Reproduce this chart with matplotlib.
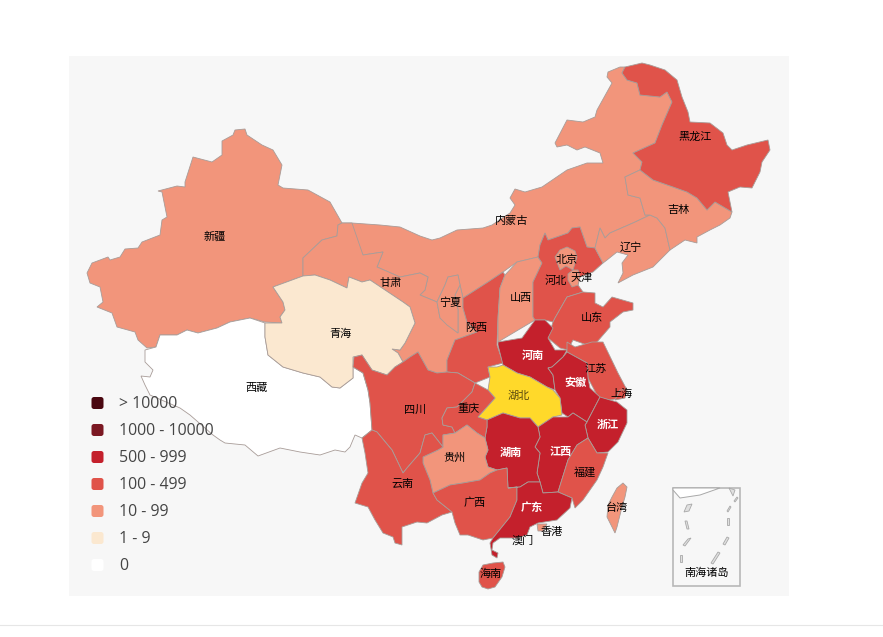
import matplotlib.pyplot as plt
from matplotlib.patches import Polygon, FancyBboxPatch, Rectangle

plt.rcParams["font.family"] = ["Noto Sans CJK SC", "DejaVu Sans"]

# outlines, in picture pixels
neimenggu = [(342,223),(352,223),(380,225),(400,227),(420,236),(432,240),(440,238),(457,230),(483,228),(492,225),(510,213),(515,205),(510,198),(515,189),(525,192),(542,187),(567,170),(587,163),(603,163),(600,153),(585,147),(577,150),(567,145),(557,147),(555,143),(567,120),(583,122),(595,117),(597,110),(612,83),(607,77),(608,72),(620,67),(625,67),(622,73),(627,80),(637,83),(640,95),(660,97),(667,92),(672,102),(662,125),(655,143),(633,153),(642,162),(640,170),(625,177),(628,195),(640,198),(645,215),(650,215),(633,223),(610,233),(605,238),(600,228),(597,240),(595,248),(587,247),(580,227),(572,228),(568,233),(548,240),(545,233),(540,245),(538,257),(517,262),(503,272),(488,282),(463,298),(460,285),(458,275),(448,277),(445,285),(437,302),(420,295),(425,290),(428,277),(420,273),(400,277),(377,267),(383,252),(363,255)]
xinjiang = [(235,130),(245,129),(247,135),(262,145),(273,150),(282,165),(278,185),(283,188),(308,190),(330,202),(342,223),(338,225),(337,236),(322,240),(303,258),(303,276),(273,287),(283,302),(285,310),(280,317),(282,323),(265,322),(250,318),(230,322),(217,328),(198,333),(187,330),(177,335),(160,335),(156,347),(147,348),(138,340),(135,332),(117,327),(112,313),(97,307),(103,302),(100,287),(90,283),(87,273),(92,263),(108,257),(110,260),(120,257),(125,249),(138,248),(142,242),(160,235),(162,220),(167,217),(162,192),(158,191),(177,186),(185,187),(185,182),(193,157),(212,162),(222,155),(222,141),(233,135)]
xizang = [(145,350),(145,362),(153,370),(150,377),(141,376),(145,385),(150,395),(180,408),(190,415),(213,435),(220,440),(225,443),(245,445),(258,456),(280,448),(300,452),(320,455),(335,450),(345,452),(350,447),(355,435),(362,438),(372,430),(370,403),(368,390),(363,373),(353,367),(353,378),(340,388),(332,387),(320,377),(303,373),(283,367),(268,355),(265,337),(265,323),(250,318),(230,322),(217,328),(198,333),(187,330),(177,335),(160,335),(156,347)]
gansu = [(342,223),(352,223),(363,255),(383,252),(377,267),(400,277),(420,273),(428,277),(425,290),(420,295),(437,302),(440,318),(458,333),(458,310),(455,295),(460,285),(463,298),(463,308),(467,322),(477,332),(455,340),(447,360),(447,372),(437,373),(428,370),(418,352),(410,357),(403,362),(398,353),(392,349),(400,350),(405,343),(415,323),(410,307),(403,302),(385,290),(370,280),(362,282),(349,277),(347,288),(330,280),(315,275),(303,276),(303,258),(322,240),(337,236),(338,225)]
qinghai = [(273,287),(303,276),(315,275),(330,280),(347,288),(349,277),(362,282),(370,280),(385,290),(403,302),(410,307),(415,323),(405,343),(400,350),(392,349),(398,353),(403,362),(395,367),(387,375),(372,370),(362,355),(353,357),(353,378),(340,388),(332,387),(320,377),(303,373),(283,367),(268,355),(265,337),(265,323),(282,323),(280,317),(285,310),(283,302)]
ningxia = [(437,302),(445,285),(448,277),(458,275),(460,285),(455,295),(458,310),(458,333),(447,325),(440,318)]
shaanxi = [(463,298),(488,282),(503,272),(505,275),(500,288),(498,318),(497,345),(503,363),(488,367),(490,377),(475,383),(458,373),(447,372),(447,360),(455,340),(477,332),(467,322),(463,308)]
shanxi = [(505,275),(517,262),(538,257),(542,263),(533,282),(533,317),(535,320),(498,342),(498,318),(500,288)]
hebei = [(545,233),(548,240),(568,233),(572,228),(580,227),(587,247),(595,248),(603,263),(593,272),(580,277),(578,285),(583,292),(567,297),(555,318),(553,322),(545,320),(535,320),(533,317),(533,282),(542,263),(538,257),(540,245)]
beijing = [(555,257),(560,250),(567,247),(575,251),(577,257),(573,270),(566,266),(560,270)]
tianjin = [(573,270),(578,270),(580,277),(578,285),(572,287),(568,280),(568,274)]
liaoning = [(633,223),(650,215),(657,218),(665,228),(670,250),(653,267),(633,275),(618,283),(623,273),(622,263),(628,255),(617,252),(607,260),(603,263),(595,248),(597,240),(600,228),(605,238),(610,233)]
jilin = [(625,177),(640,170),(653,180),(673,187),(687,192),(697,198),(707,210),(715,202),(732,212),(730,218),(720,225),(710,230),(697,237),(697,243),(685,240),(670,250),(665,228),(657,218),(650,215),(645,215),(640,198),(628,195)]
heilongjiang = [(625,67),(642,63),(650,65),(665,70),(677,80),(682,97),(688,112),(690,122),(710,123),(723,133),(727,145),(732,150),(747,145),(768,140),(770,150),(762,162),(760,172),(752,188),(740,187),(728,192),(732,212),(715,202),(707,210),(697,198),(687,192),(673,187),(653,180),(640,170),(642,162),(633,153),(655,143),(662,125),(672,102),(667,92),(660,97),(640,95),(637,83),(627,80),(622,73)]
shandong = [(553,322),(555,318),(567,297),(583,292),(595,293),(595,303),(603,307),(612,297),(633,303),(633,310),(623,312),(610,322),(610,327),(597,342),(587,345),(573,340),(568,350),(560,348),(548,338)]
henan = [(498,345),(498,342),(522,338),(535,320),(545,320),(553,328),(548,338),(555,350),(567,350),(563,357),(552,367),(548,368),(553,375),(555,390),(547,387),(530,377),(517,373),(503,365)]
jiangsu = [(567,342),(575,347),(592,342),(597,342),(603,342),(618,373),(627,390),(620,398),(610,400),(598,397),(588,378),(587,363),(567,352)]
shanghai = [(620,390),(627,390),(625,398),(615,400)]
anhui = [(552,367),(563,357),(567,352),(587,363),(588,378),(590,388),(600,397),(587,422),(573,413),(568,417),(562,413),(560,398),(555,390),(553,375),(548,368)]
hubei = [(488,367),(497,367),(503,365),(517,373),(530,377),(547,387),(553,390),(560,398),(562,415),(553,417),(538,427),(530,418),(520,418),(503,413),(487,420),(478,417),(495,398),(488,390),(490,377)]
zhejiang = [(600,397),(610,400),(617,402),(627,410),(627,423),(618,442),(608,452),(597,453),(588,438),(585,425),(587,422)]
jiangxi = [(538,427),(553,417),(568,417),(573,413),(587,422),(585,425),(588,438),(577,445),(568,460),(558,492),(543,493),(540,482),(537,473),(540,453),(535,447),(540,437)]
fujian = [(588,438),(597,453),(608,453),(603,467),(597,480),(583,500),(575,508),(572,498),(558,492),(568,460),(577,445)]
hunan = [(487,420),(503,413),(520,418),(530,418),(538,427),(540,437),(535,447),(540,453),(537,473),(540,482),(528,482),(520,487),(508,488),(507,468),(497,470),(488,467),(485,457),(488,450),(485,438),(487,427)]
sichuan = [(354,357),(362,355),(372,370),(387,375),(395,367),(403,362),(410,357),(418,352),(428,370),(437,373),(447,372),(458,373),(475,383),(472,392),(457,407),(447,408),(442,418),(443,425),(452,427),(455,433),(443,435),(443,447),(432,433),(425,435),(420,453),(407,468),(403,473),(392,450),(377,432),(372,430),(370,403),(368,390),(363,373),(353,367)]
chongqing = [(472,392),(475,383),(488,390),(495,398),(478,417),(487,420),(487,427),(485,438),(477,433),(467,425),(455,433),(452,427),(443,425),(442,418),(447,408),(457,407)]
guizhou = [(443,435),(455,433),(467,425),(477,433),(485,438),(488,450),(485,457),(488,467),(497,470),(490,473),(480,480),(463,483),(450,485),(433,493),(430,480),(423,463),(423,457),(438,450),(443,447)]
yunnan = [(377,432),(392,450),(403,473),(407,468),(420,453),(425,435),(432,433),(443,447),(438,450),(423,457),(423,463),(430,480),(433,493),(437,500),(452,512),(442,515),(427,523),(417,522),(402,527),(402,545),(395,543),(393,537),(383,533),(375,520),(368,507),(355,503),(362,483),(368,473),(365,453),(362,438),(372,430)]
guangxi = [(433,493),(450,485),(463,483),(480,480),(490,473),(497,470),(507,468),(508,488),(517,487),(517,500),(510,517),(493,538),(483,540),(468,535),(460,535),(455,523),(452,512),(437,500)]
guangdong = [(508,488),(520,487),(528,482),(540,482),(543,493),(558,492),(572,498),(570,508),(557,520),(538,523),(530,527),(527,535),(517,538),(500,538),(493,543),(492,550),(498,553),(497,558),(492,555),(490,543),(493,538),(510,517),(517,500),(517,487)]
xianggang = [(537,524),(547,524),(543,531),(538,531)]
hainan = [(479,572),(483,565),(493,563),(503,562),(505,567),(502,577),(495,587),(488,589),(482,587),(479,582)]
taiwan = [(623,483),(627,487),(625,497),(622,507),(617,527),(615,533),(610,523),(607,517),(608,505),(612,497),(617,488)]

# inset islands
inset_coast = [(673,490),(680,498),(700,495),(720,488),(673,488)]
inset_islands = [
    [(687,505),(692,504),(689,511),(684,512)],
    [(685,521),(687,521),(689,529),(687,529)],
    [(688,539),(691,538),(685,546),(683,545)],
    [(680,555),(682,555),(682,562),(680,562)],
    [(718,552),(720,553),(713,564),(711,563)],
    [(727,537),(729,538),(725,545),(723,544)],
    [(727,518),(729,518),(729,525),(727,525)],
    [(730,506),(731,507),(728,512),(727,511)],
    [(737,497),(738,498),(735,502),(734,501)],
    [(729,488),(733,496),(735,490)],
]

province_names = ["内蒙古", "新疆", "西藏", "甘肃", "青海", "宁夏", "陕西", "山西", "河北", "北京", "天津", "辽宁", "吉林", "黑龙江", "山东", "河南", "江苏", "上海", "安徽", "湖北", "浙江", "江西", "福建", "湖南", "四川", "重庆", "贵州", "云南", "广西", "广东", "香港", "海南", "台湾"]
province_shapes = [neimenggu, xinjiang, xizang, gansu, qinghai, ningxia, shaanxi, shanxi, hebei, beijing, tianjin, liaoning, jilin, heilongjiang, shandong, henan, jiangsu, shanghai, anhui, hubei, zhejiang, jiangxi, fujian, hunan, sichuan, chongqing, guizhou, yunnan, guangxi, guangdong, xianggang, hainan, taiwan]
# index into legend_labels, 7 is the highlighted province
province_bins = [4, 4, 6, 4, 5, 4, 3, 4, 3, 4, 4, 4, 4, 3, 3, 2, 3, 3, 2, 7, 2, 2, 3, 2, 3, 3, 4, 3, 3, 2, 4, 3, 4]

legend_labels = ["> 10000", "1000 - 10000", "500 - 999", "100 - 499", "10 - 99", "1 - 9", "0"]
legend_colors = ["#4a0710", "#7b1822", "#c4202c", "#e0534a", "#f2957b", "#fbe8d0", "#ffffff"]
hubei_color = "#ffd92a"

label_names = ["新疆", "西藏", "青海", "甘肃", "宁夏", "内蒙古", "黑龙江", "吉林", "辽宁", "北京", "天津", "河北", "山西", "陕西", "山东", "河南", "江苏", "安徽", "上海", "湖北", "四川", "重庆", "浙江", "贵州", "湖南", "江西", "福建", "云南", "广西", "广东", "台湾", "香港", "澳门", "海南", "南海诸岛"]
label_x = [215, 257, 341, 391, 450, 512, 695, 678, 631, 567, 582, 556, 521, 476, 592, 533, 596, 575, 622, 519, 415, 469, 608, 455, 511, 561, 585, 403, 475, 532, 617, 552, 523, 491, 707]
label_y = [237, 388, 334, 283, 303, 221, 137, 210, 247, 260, 278, 281, 298, 328, 318, 355, 369, 382, 394, 396, 410, 409, 424, 458, 452, 452, 472, 484, 503, 508, 508, 532, 540, 574, 573]
white_labels = ["河南", "安徽", "浙江", "湖南", "江西", "广东"]

fig = plt.figure(figsize=(8.83, 6.37), dpi=100)
ax = fig.add_axes([0, 0, 1, 1])
ax.set_xlim(0, 883)
ax.set_ylim(637, 0)
ax.axis("off")

ax.add_patch(Rectangle((69, 56), 720, 540, facecolor="#f7f7f7", edgecolor="none", zorder=0))
ax.plot([0, 883], [625, 625], color="#e6e6e6", linewidth=0.8, zorder=0)

for name, shape, bin_idx in zip(province_names, province_shapes, province_bins):
    color = hubei_color if bin_idx == 7 else legend_colors[bin_idx]
    ax.add_patch(Polygon(shape, closed=True, facecolor=color, edgecolor="#a89c98", linewidth=0.6, zorder=2))

# south china sea inset
ax.add_patch(Rectangle((673, 488), 67, 98, facecolor="none", edgecolor="#b8b8b8", linewidth=1.2, zorder=2))
ax.add_patch(Polygon(inset_coast, closed=True, facecolor="white", edgecolor="#a8a8a8", linewidth=0.7, zorder=2))
for island in inset_islands:
    ax.add_patch(Polygon(island, closed=True, facecolor="#e0e0e0", edgecolor="#a8a8a8", linewidth=0.6, zorder=2))

for name, x, y in zip(label_names, label_x, label_y):
    if name in white_labels:
        ax.text(x, y, name, color="white", fontsize=8, fontweight="bold", ha="center", va="center", zorder=4)
    elif name == "湖北":
        ax.text(x, y, name, color="#5a4a10", fontsize=8, ha="center", va="center", zorder=4)
    else:
        ax.text(x, y, name, color="black", fontsize=8, ha="center", va="center", zorder=4)

# legend
for i, (label, color) in enumerate(zip(legend_labels, legend_colors)):
    yc = 403 + i * 27
    ax.add_patch(FancyBboxPatch((93, yc - 4.5), 9, 9, boxstyle="round,pad=1.5,rounding_size=2.5", facecolor=color, edgecolor="none", zorder=5))
    ax.text(119, yc + 1, label, color="#444444", fontsize=11.4, family=["Open Sans", "DejaVu Sans"], ha="left", va="center", zorder=5)

plt.savefig("out.png", dpi=100)
